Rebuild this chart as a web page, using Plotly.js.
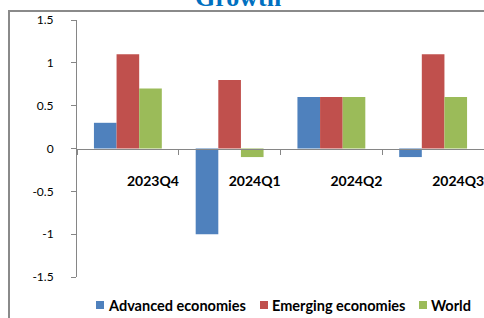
<!DOCTYPE html>
<html>
<head>
<meta charset="utf-8">
<script src="https://cdn.plot.ly/plotly-3.0.1.min.js"></script>
<style>
html,body{margin:0;padding:0;overflow:hidden;background:#fff;}
#chart{width:484px;height:318px;}
</style>
</head>
<body>
<div id="chart"></div>
<script>
// ---- data ----
var quarters = ["2023Q4", "2024Q1", "2024Q2", "2024Q3"];
var seriesNames = ["Advanced economies", "Emerging economies", "World"];
var advanced = [0.3, -1.0, 0.6, -0.1];
var emerging = [1.1, 0.8, 0.6, 1.1];
var world = [0.7, -0.1, 0.6, 0.6];
var yTickVals = [-1.5, -1, -0.5, 0, 0.5, 1, 1.5];
var yTickText = ["-1.5", "-1", "-0.5", "0", "0.5", "1", "1.5"];
var chartTitle = "Growth";

// ---- style ----
var colors = ["#4F81BD", "#C0504D", "#9BBB59"];
var W = 484, H = 318;
var M = {l: 77, r: 0, t: 20, b: 41};
var plotW = W - M.l - M.r, plotH = H - M.t - M.b;
function px2x(p) { return (p - M.l) / plotW; }
function py2y(p) { return (H - M.b - p) / plotH; }

var allSeries = [advanced, emerging, world];
var traces = allSeries.map(function (vals, i) {
  return {
    type: "bar",
    name: seriesNames[i],
    x: quarters,
    y: vals,
    marker: {color: colors[i], line: {width: 0}},
    showlegend: false,
    hoverinfo: "x+y+name"
  };
});

var axisGray = "#868686";
var legendSquareX = [96, 260, 419];
var legendTextX = [106, 270, 429];
var legendY = 305;

var shapes = [
  // outer chart frame (left and top visible)
  {type: "line", xref: "paper", yref: "paper", x0: px2x(9), x1: px2x(9), y0: py2y(11), y1: py2y(330),
   line: {color: "#8a8a8a", width: 2}},
  {type: "line", xref: "paper", yref: "paper", x0: px2x(8), x1: px2x(500), y0: py2y(11), y1: py2y(11),
   line: {color: "#8a8a8a", width: 2}}
];
var annotations = [
  {text: "<b>" + chartTitle + "</b>", xref: "paper", yref: "paper", x: px2x(238), y: py2y(-3),
   xanchor: "center", yanchor: "middle", showarrow: false,
   font: {family: "Liberation Serif, Times New Roman, serif", size: 26, color: "#0070C0"}}
];
seriesNames.forEach(function (name, i) {
  shapes.push({type: "rect", xref: "paper", yref: "paper",
    x0: px2x(legendSquareX[i]), x1: px2x(legendSquareX[i] + 8),
    y0: py2y(legendY - 4), y1: py2y(legendY + 4),
    fillcolor: colors[i], line: {width: 0}});
  annotations.push({text: "<b>" + name + "</b>", xref: "paper", yref: "paper",
    x: px2x(legendTextX[i]), y: py2y(legendY), xanchor: "left", yanchor: "middle",
    showarrow: false, font: {family: "Lato, sans-serif", size: 14.5, color: "#000"}});
});

var layout = {
  width: W, height: H,
  margin: M,
  paper_bgcolor: "#fff", plot_bgcolor: "#fff",
  barmode: "group", bargap: 0.333, bargroupgap: 0,
  showlegend: false,
  font: {family: "Lato, sans-serif", color: "#000"},
  xaxis: {
    type: "category", range: [-0.5, 3.5], anchor: "free", position: 0.5,
    showline: true, linecolor: axisGray, linewidth: 1,
    ticks: "outside", ticklen: 5, tickcolor: axisGray, tickson: "boundaries",
    showgrid: false, zeroline: false,
    ticklabelshift: 25, ticklabelstandoff: 20,
    tickfont: {family: "Lato, sans-serif", size: 14, color: "#000", weight: "bold"}
  },
  yaxis: {
    range: [-1.5, 1.5], tickmode: "array", tickvals: yTickVals, ticktext: yTickText,
    showline: true, linecolor: axisGray, linewidth: 1,
    ticks: "outside", ticklen: 5, tickcolor: axisGray,
    showgrid: false, zeroline: false, ticklabelstandoff: 15,
    tickfont: {family: "Lato, sans-serif", size: 12, color: "#000"}
  },
  shapes: shapes,
  annotations: annotations
};

Plotly.newPlot("chart", traces, layout, {displayModeBar: false, staticPlot: true});
</script>
</body>
</html>
